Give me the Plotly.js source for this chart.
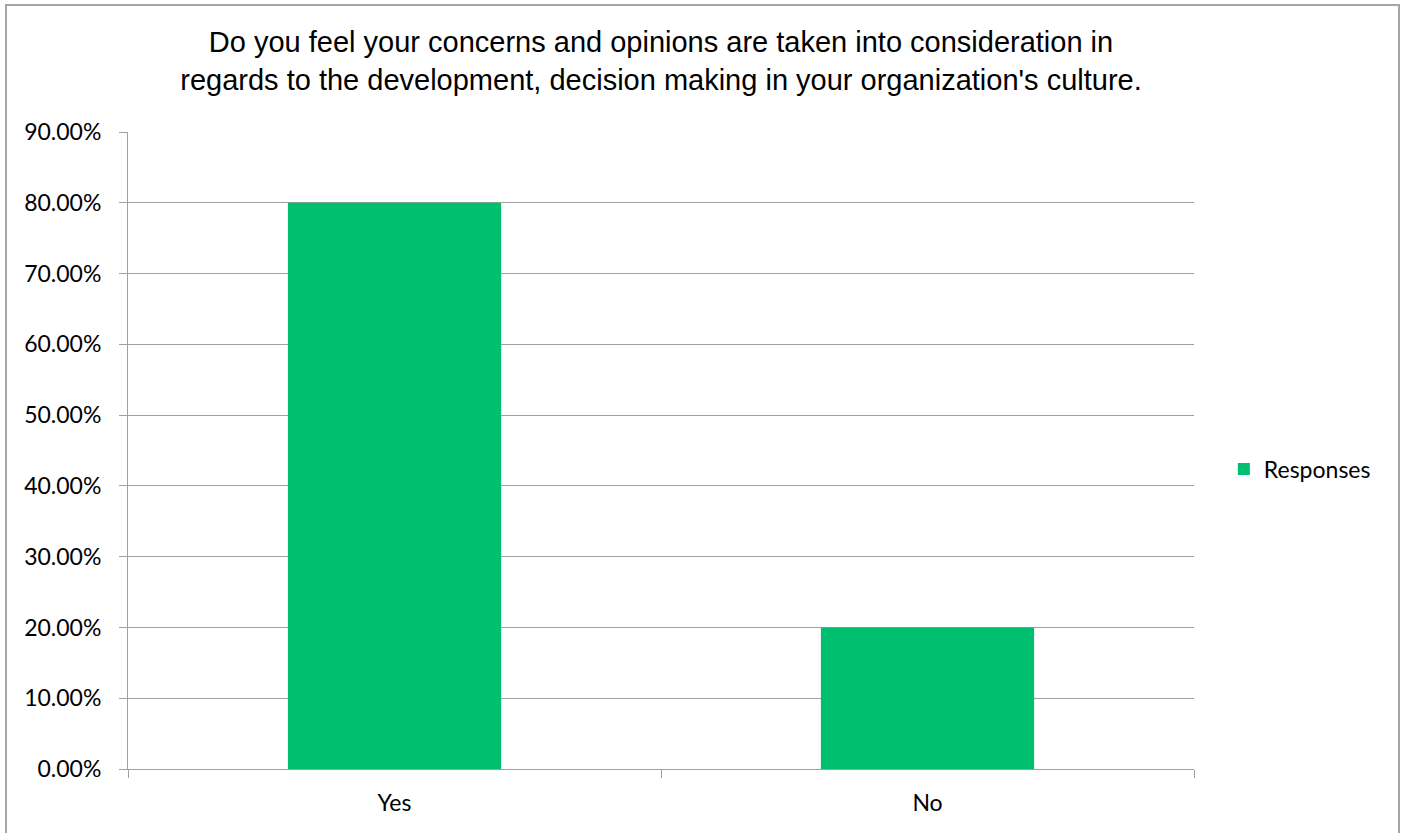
<!DOCTYPE html>
<html>
<head>
<meta charset="utf-8">
<script src="https://cdn.plot.ly/plotly-3.0.1.min.js"></script>
<style>
html,body{margin:0;padding:0;overflow:hidden;background:#fff;}
#chart{position:absolute;left:0;top:0;width:1404px;height:833px;}
#frame{position:absolute;left:5px;top:4px;width:1391px;height:900px;border:2px solid #a6a6a6;pointer-events:none;}
</style>
</head>
<body>
<div id="chart"></div>
<div id="frame"></div>
<script>
const categories = ["Yes", "No"];
const responses = [0.80, 0.20];
const seriesName = "Responses";
const titleText = "Do you feel your concerns and opinions are taken into consideration in<br>regards to the development, decision making in your organization's culture.";

const trace = {
  type: "bar",
  x: categories,
  y: responses,
  name: seriesName,
  width: 0.4,
  marker: {color: "#00BF6F"},
  showlegend: true,
  hoverinfo: "x+y"
};

const layout = {
  width: 1404,
  height: 833,
  margin: {l: 128, r: 210, t: 132, b: 64},
  paper_bgcolor: "#ffffff",
  plot_bgcolor: "#ffffff",
  title: {
    text: titleText,
    font: {family: "Liberation Sans, Arial, sans-serif", size: 29, color: "#000"},
    x: 0.5, xref: "paper", xanchor: "center",
    y: 0.937, yref: "container", yanchor: "middle"
  },
  xaxis: {
    type: "category",
    showgrid: false,
    showline: true,
    linecolor: "#a0a0a0",
    linewidth: 1,
    ticks: "outside",
    tickson: "boundaries",
    ticklen: 8,
    tickcolor: "#a0a0a0",
    tickfont: {family: "Lato, Open Sans, sans-serif", size: 23, color: "#000"},
    ticklabelstandoff: 13,
    zeroline: false,
    fixedrange: true
  },
  yaxis: {
    range: [0, 0.9],
    dtick: 0.1,
    tick0: 0,
    tickformat: ".2%",
    showgrid: true,
    gridcolor: "#a0a0a0",
    gridwidth: 1,
    showline: true,
    linecolor: "#a0a0a0",
    linewidth: 1,
    ticks: "outside",
    ticklen: 8,
    tickcolor: "#a0a0a0",
    tickfont: {family: "Lato, Open Sans, sans-serif", size: 23, color: "#000"},
    ticklabelstandoff: 13,
    zeroline: false,
    fixedrange: true
  },
  showlegend: true,
  legend: {
    x: 1.028, xanchor: "left",
    y: 0.471, yanchor: "middle",
    font: {family: "Lato, Open Sans, sans-serif", size: 23, color: "#000"},
    itemwidth: 30,
    bgcolor: "rgba(0,0,0,0)"
  },
  bargap: 0.6
};

Plotly.newPlot("chart", [trace], layout, {displayModeBar: false, staticPlot: true});
</script>
</body>
</html>
